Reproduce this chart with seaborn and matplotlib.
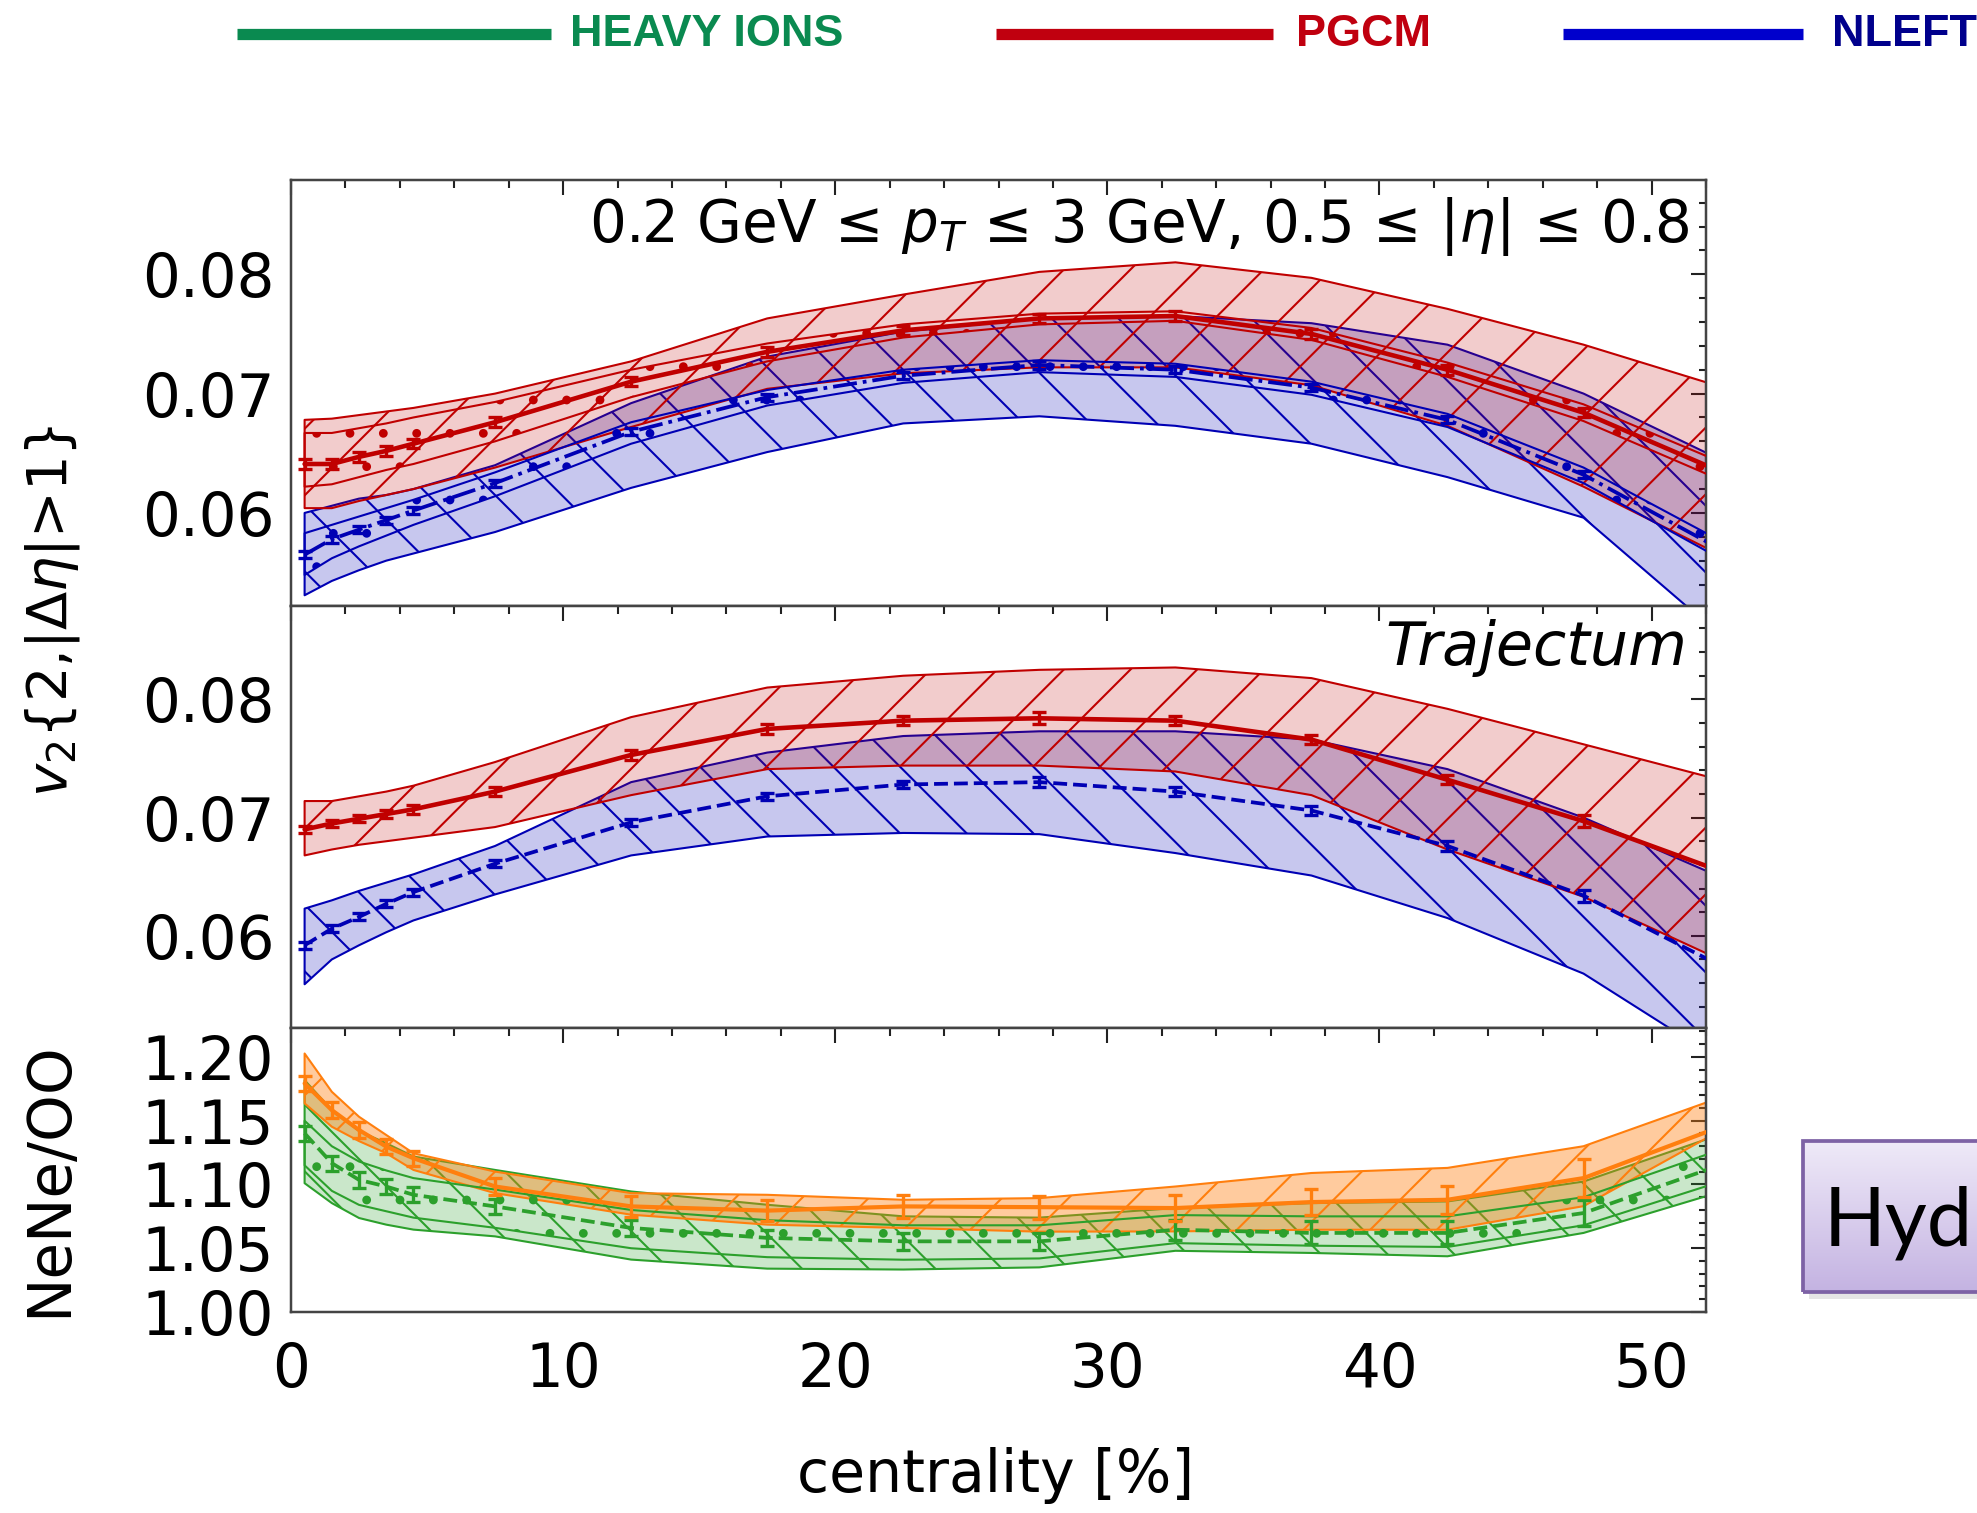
import matplotlib
matplotlib.use('Agg')
import matplotlib as mpl
import matplotlib.pyplot as plt
import numpy as np
import seaborn as sns
from matplotlib.ticker import MultipleLocator, FormatStrFormatter
from matplotlib.patches import Rectangle
from matplotlib.lines import Line2D
from matplotlib.colors import LinearSegmentedColormap

W, H, DPI = 1977, 1513, 200
S = 300 / DPI  # point sizes below were tuned for 300 dpi

sns.set_style('white')
plt.rcParams['font.family'] = ['DejaVu Sans']
plt.rcParams['mathtext.fontset'] = 'dejavusans'
plt.rcParams['hatch.linewidth'] = 0.5 * S
for k in ('text.color', 'axes.labelcolor', 'xtick.color', 'ytick.color'):
    plt.rcParams[k] = 'black'

# centrality bins (band nodes); error bars drawn on all but the last one
cent = [0.5, 1.5, 2.5, 3.5, 4.5, 7.5, 12.5, 17.5, 22.5, 27.5, 32.5, 37.5, 42.5, 47.5, 52.5]

# --- top panel: v2{2} (first selection) ---
pgcm_v2a = [0.0641, 0.0641, 0.0647, 0.0652, 0.0658, 0.0676, 0.0710, 0.0735, 0.0753, 0.0763, 0.0765, 0.0750, 0.0720, 0.0684, 0.0635]
pgcm_v2a_hi = [0.0678, 0.0679, 0.0682, 0.0685, 0.0688, 0.0700, 0.0727, 0.0763, 0.0783, 0.0802, 0.0810, 0.0797, 0.0771, 0.0741, 0.0706]
pgcm_v2a_lo = [0.0604, 0.0604, 0.0610, 0.0615, 0.0620, 0.0638, 0.0672, 0.0704, 0.0717, 0.0722, 0.0722, 0.0707, 0.0673, 0.0622, 0.0565]
pgcm_v2a_in_hi = [0.0667, 0.0667, 0.0671, 0.0675, 0.0680, 0.0693, 0.0720, 0.0742, 0.0758, 0.0767, 0.0769, 0.0755, 0.0726, 0.0691, 0.0643]
pgcm_v2a_in_lo = [0.0622, 0.0624, 0.0630, 0.0636, 0.0641, 0.0660, 0.0697, 0.0727, 0.0747, 0.0758, 0.0761, 0.0745, 0.0714, 0.0677, 0.0628]
pgcm_v2a_err = [0.0004, 0.0004, 0.0004, 0.0004, 0.0004, 0.0004, 0.0004, 0.0004, 0.0004, 0.0004, 0.0004, 0.0004, 0.0004, 0.0004]

nleft_v2a = [0.0565, 0.0578, 0.0586, 0.0594, 0.0602, 0.0625, 0.0668, 0.0697, 0.0715, 0.0724, 0.0720, 0.0705, 0.0678, 0.0632, 0.0570]
nleft_v2a_hi = [0.0600, 0.0606, 0.0612, 0.0615, 0.0620, 0.0640, 0.0692, 0.0731, 0.0752, 0.0763, 0.0765, 0.0759, 0.0741, 0.0700, 0.0645]
nleft_v2a_lo = [0.0531, 0.0543, 0.0552, 0.0560, 0.0566, 0.0584, 0.0621, 0.0651, 0.0675, 0.0681, 0.0673, 0.0658, 0.0630, 0.0596, 0.0498]
nleft_v2a_in_hi = [0.0583, 0.0590, 0.0597, 0.0604, 0.0611, 0.0634, 0.0676, 0.0703, 0.0720, 0.0728, 0.0725, 0.0710, 0.0683, 0.0638, 0.0577]
nleft_v2a_in_lo = [0.0548, 0.0562, 0.0572, 0.0581, 0.0590, 0.0614, 0.0658, 0.0690, 0.0709, 0.0718, 0.0714, 0.0699, 0.0672, 0.0625, 0.0562]
nleft_v2a_err = [0.0003, 0.0003, 0.0003, 0.0003, 0.0003, 0.0003, 0.0003, 0.0003, 0.0003, 0.0003, 0.0003, 0.0003, 0.0003, 0.0003]

# --- middle panel: v2{2} (Trajectum) ---
pgcm_v2b = [0.0690, 0.0695, 0.0699, 0.0703, 0.0707, 0.0722, 0.0753, 0.0775, 0.0782, 0.0784, 0.0782, 0.0766, 0.0732, 0.0697, 0.0655]
pgcm_v2b_hi = [0.0714, 0.0714, 0.0718, 0.0722, 0.0727, 0.0747, 0.0785, 0.0810, 0.0820, 0.0825, 0.0827, 0.0818, 0.0792, 0.0762, 0.0732]
pgcm_v2b_lo = [0.0668, 0.0673, 0.0677, 0.0680, 0.0683, 0.0692, 0.0719, 0.0741, 0.0744, 0.0744, 0.0739, 0.0719, 0.0673, 0.0633, 0.0580]
pgcm_v2b_err = [0.0003, 0.0003, 0.0003, 0.0003, 0.0004, 0.0004, 0.0004, 0.0004, 0.0004, 0.0005, 0.0004, 0.0004, 0.0004, 0.0005]

nleft_v2b = [0.0592, 0.0606, 0.0616, 0.0627, 0.0637, 0.0661, 0.0696, 0.0718, 0.0728, 0.0730, 0.0722, 0.0706, 0.0676, 0.0634, 0.0575]
nleft_v2b_hi = [0.0623, 0.0630, 0.0638, 0.0645, 0.0652, 0.0676, 0.0730, 0.0755, 0.0769, 0.0773, 0.0773, 0.0766, 0.0741, 0.0700, 0.0650]
nleft_v2b_lo = [0.0559, 0.0580, 0.0592, 0.0603, 0.0613, 0.0635, 0.0668, 0.0684, 0.0687, 0.0686, 0.0670, 0.0651, 0.0615, 0.0568, 0.0495]
nleft_v2b_err = [0.0003, 0.0003, 0.0003, 0.0003, 0.0003, 0.0003, 0.0003, 0.0003, 0.0003, 0.0004, 0.0004, 0.0004, 0.0004, 0.0005]

# --- bottom panel: NeNe/OO ratio ---
ratio_a = [1.1792, 1.1583, 1.1427, 1.1297, 1.1206, 1.0984, 1.0828, 1.0795, 1.0828, 1.0822, 1.0815, 1.0862, 1.0880, 1.1050, 1.1450]
ratio_a_hi = [1.2027, 1.1727, 1.1531, 1.1388, 1.1245, 1.1101, 1.0932, 1.0919, 1.0880, 1.0893, 1.0984, 1.1090, 1.1130, 1.1300, 1.1680]
ratio_a_lo = [1.1636, 1.1453, 1.1340, 1.1245, 1.1114, 1.0932, 1.0763, 1.0685, 1.0659, 1.0630, 1.0632, 1.0645, 1.0645, 1.0830, 1.1420]
ratio_a_err = [0.006, 0.006, 0.006, 0.006, 0.006, 0.007, 0.008, 0.008, 0.009, 0.009, 0.010, 0.010, 0.011, 0.015]

ratio_b = [1.1401, 1.1167, 1.1036, 1.0984, 1.0919, 1.0828, 1.0659, 1.0581, 1.0554, 1.0554, 1.0645, 1.0620, 1.0620, 1.0776, 1.1150]
ratio_b_hi = [1.1818, 1.1583, 1.1420, 1.1323, 1.1219, 1.1114, 1.0945, 1.0841, 1.0750, 1.0740, 1.0815, 1.0854, 1.0867, 1.1023, 1.1390]
ratio_b_lo = [1.1010, 1.0854, 1.0737, 1.0685, 1.0646, 1.0593, 1.0411, 1.0340, 1.0333, 1.0350, 1.0480, 1.0463, 1.0437, 1.0620, 1.0940]
ratio_b_in_hi = [1.1500, 1.1300, 1.1180, 1.1110, 1.1050, 1.0960, 1.0800, 1.0720, 1.0680, 1.0680, 1.0760, 1.0750, 1.0750, 1.0900, 1.1270]
ratio_b_in_lo = [1.1150, 1.0950, 1.0840, 1.0790, 1.0740, 1.0660, 1.0500, 1.0430, 1.0410, 1.0420, 1.0540, 1.0520, 1.0510, 1.0680, 1.1020]
ratio_b_err = [0.006, 0.006, 0.006, 0.006, 0.006, 0.006, 0.006, 0.006, 0.0065, 0.0065, 0.008, 0.009, 0.009, 0.010]

RED = '#c00000'
BLUE = '#0000b4'
ORANGE = '#ff7f0e'
GREEN = '#2ca02c'

fig = plt.figure(figsize=(W / DPI, H / DPI), dpi=DPI)


def box(x0, y0, x1, y1):
    # pixel rectangle -> figure fraction
    return [x0 / W, 1 - y1 / H, (x1 - x0) / W, (y1 - y0) / H]


def band(ax, lo, hi, color, alpha, hatch, z):
    with plt.rc_context({'hatch.color': color}):
        ax.fill_between(cent, lo, hi, facecolor=mpl.colors.to_rgba(color, alpha),
                        edgecolor=color, hatch=hatch, linewidth=0.5 * S, zorder=z)


def central(ax, y, err, color, ls, lw):
    sns.lineplot(x=cent, y=y, ax=ax, color=color, linestyle=ls, linewidth=lw * S,
                 sort=False, estimator=None, legend=False, zorder=5)
    ax.errorbar(cent[:-1], y[:-1], yerr=err, fmt='none', ecolor=color,
                elinewidth=0.8 * S, capsize=1.6 * S, capthick=0.8 * S, zorder=6)


ax1 = fig.add_axes(box(291, 180, 1706, 606))
ax2 = fig.add_axes(box(291, 606, 1706, 1028))
ax3 = fig.add_axes(box(291, 1028, 1706, 1312))

# top panel
band(ax1, nleft_v2a_lo, nleft_v2a_hi, BLUE, 0.22, '\\', 1)
band(ax1, pgcm_v2a_lo, pgcm_v2a_hi, RED, 0.20, '/', 2)
band(ax1, nleft_v2a_in_lo, nleft_v2a_in_hi, BLUE, 0.0, '.', 3)
band(ax1, pgcm_v2a_in_lo, pgcm_v2a_in_hi, RED, 0.0, '.', 3)
central(ax1, nleft_v2a, nleft_v2a_err, BLUE, '-.', 0.9)
central(ax1, pgcm_v2a, pgcm_v2a_err, RED, '-', 1.1)

# middle panel
band(ax2, nleft_v2b_lo, nleft_v2b_hi, BLUE, 0.22, '\\', 1)
band(ax2, pgcm_v2b_lo, pgcm_v2b_hi, RED, 0.20, '/', 2)
central(ax2, nleft_v2b, nleft_v2b_err, BLUE, '--', 0.9)
central(ax2, pgcm_v2b, pgcm_v2b_err, RED, '-', 1.1)

# bottom panel
band(ax3, ratio_b_lo, ratio_b_hi, GREEN, 0.25, '\\', 1)
band(ax3, ratio_a_lo, ratio_a_hi, ORANGE, 0.40, '/', 2)
band(ax3, ratio_b_in_lo, ratio_b_in_hi, GREEN, 0.0, '.', 3)
central(ax3, ratio_b, ratio_b_err, GREEN, '--', 0.9)
central(ax3, ratio_a, ratio_a_err, ORANGE, '-', 1.0)

for ax in (ax1, ax2, ax3):
    ax.set_xlim(0, 52)
    ax.xaxis.set_major_locator(MultipleLocator(10))
    ax.xaxis.set_minor_locator(MultipleLocator(2))
    ax.tick_params(which='both', direction='in', top=True, right=True,
                   labelsize=14.3 * S, width=0.5 * S, color='#222222')
    ax.tick_params(which='major', length=3.6 * S)
    ax.tick_params(which='minor', length=1.8 * S)
    ax.tick_params(axis='x', pad=7 * S)
    ax.tick_params(axis='y', pad=4 * S)
    ax.set_xlabel('')
    ax.set_ylabel('')
    for s in ax.spines.values():
        s.set_linewidth(0.6 * S)
        s.set_color('#444444')

for ax in (ax1, ax2):
    ax.set_ylim(0.0522, 0.0879)
    ax.yaxis.set_major_locator(MultipleLocator(0.01))
    ax.yaxis.set_minor_locator(MultipleLocator(0.002))
    ax.yaxis.set_major_formatter(FormatStrFormatter('%.2f'))
    ax.tick_params(labelbottom=False)

ax3.set_ylim(1.0, 1.2227)
ax3.yaxis.set_major_locator(MultipleLocator(0.05))
ax3.yaxis.set_minor_locator(MultipleLocator(0.01))
ax3.yaxis.set_major_formatter(FormatStrFormatter('%.2f'))

ax1.text(0.988, 0.965, r'0.2 GeV ≤ $p_T$ ≤ 3 GeV, 0.5 ≤ $|\eta|$ ≤ 0.8',
         transform=ax1.transAxes, ha='right', va='top', fontsize=13.9 * S)
ax2.text(0.987, 0.97, 'Trajectum', style='italic', transform=ax2.transAxes,
         ha='right', va='top', fontsize=14.5 * S)

fig.text(53 / W, 1 - 611 / H, r'$v_2$' + '{2,|Δ' + r'$\eta$' + '|>1}', rotation=90,
         ha='center', va='center', fontsize=13.4 * S)
fig.text(50 / W, 1 - 1179 / H, 'NeNe/OO', rotation=90, ha='center', va='center', fontsize=14.3 * S)
fig.text(996 / W, 1 - 1475 / H, 'centrality [%]', ha='center', va='center', fontsize=14 * S)

# header legend
header = [('HEAVY IONS', '#0a8a50', '#0a8a50', 237, 551, 570),
          ('PGCM', '#c0000f', '#c0000f', 996, 1273, 1296),
          ('NLEFT', '#0000cc', '#00008c', 1563, 1803, 1832)]
for name, lc, tc, x0, x1, xt in header:
    fig.add_artist(Line2D([x0 / W, x1 / W], [1 - 34 / H, 1 - 34 / H], color=lc, lw=2.7 * S,
                          solid_capstyle='butt', transform=fig.transFigure))
    fig.text(xt / W, 1 - 34 / H, name, color=tc, ha='left', va='center', fontsize=10.8 * S,
             fontweight='bold', family=['Liberation Sans', 'DejaVu Sans'])

# "Hyd" box on the right (runs off the figure edge)
fig.add_artist(Rectangle((1809 / W, 1 - 1299 / H), 200 / W, 151 / H, transform=fig.transFigure,
                         facecolor='#aaaaaa', alpha=0.3, edgecolor='none', zorder=0.5))
hax = fig.add_axes(box(1803, 1141, 2060, 1292), zorder=1)
grad = np.linspace(0, 1, 100)[:, None]
hax.imshow(grad, aspect='auto', extent=[0, 1, 0, 1],
           cmap=LinearSegmentedColormap.from_list('hyd', ['#efeaf8', '#c4b3e2']))
hax.set_xlim(0, 1)
hax.set_ylim(0, 1)
hax.axis('off')
hax.add_patch(Rectangle((0, 0), 1, 1, fill=False, edgecolor='#7d62a5', lw=0.9 * S,
                        transform=hax.transAxes, clip_on=False))
fig.text(1824 / W, 1 - 1246 / H, 'Hyd', fontsize=19.5 * S, family=['Lato', 'DejaVu Sans'],
         ha='left', va='baseline', color='black', zorder=3)

fig.savefig('out.png', dpi=DPI)
